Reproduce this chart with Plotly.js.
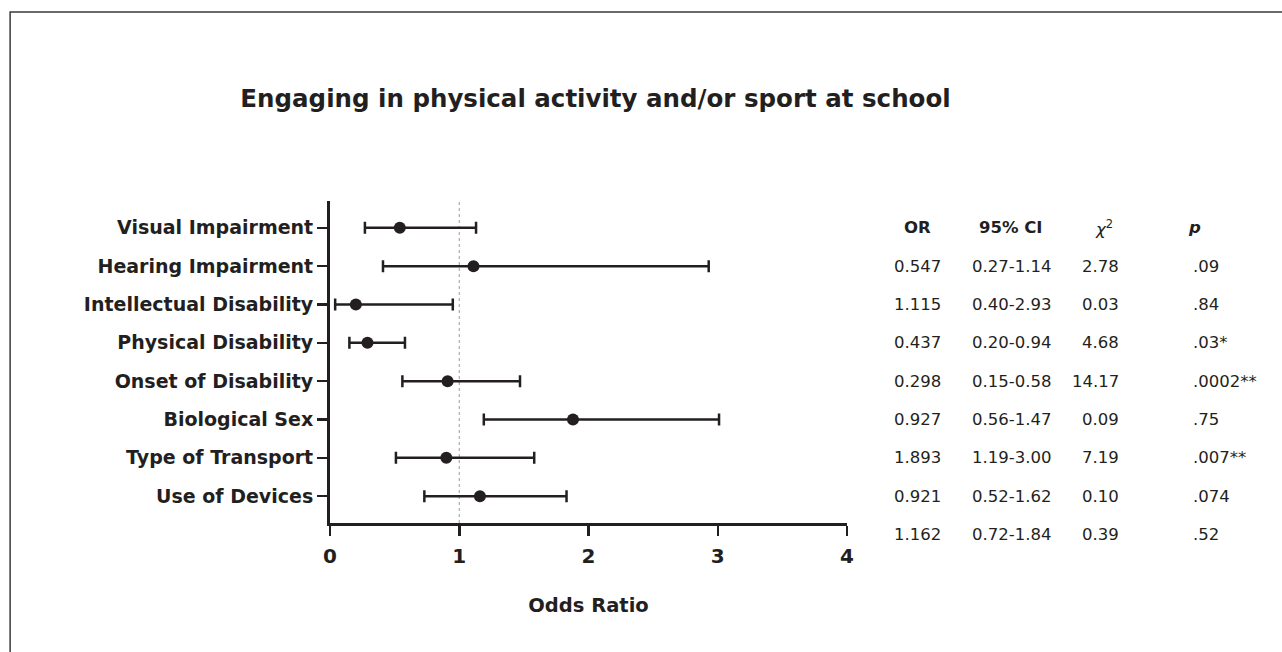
<!DOCTYPE html>
<html>
<head>
<meta charset="utf-8">
<script src="https://cdn.plot.ly/plotly-3.0.1.min.js"></script>
<style>
  html, body { margin: 0; padding: 0; background: #ffffff; }
  #chart { width: 1282px; height: 652px; }
</style>
</head>
<body>
<div id="chart"></div>
<script>
// ---- Data ----
const categories = [
  "Visual Impairment",
  "Hearing Impairment",
  "Intellectual Disability",
  "Physical Disability",
  "Onset of Disability",
  "Biological Sex",
  "Type of Transport",
  "Use of Devices"
];
// plotted odds ratios and CI bounds as drawn
const oddsRatio = [0.54, 1.11, 0.20, 0.29, 0.91, 1.88, 0.90, 1.16];
const ciLow     = [0.27, 0.41, 0.04, 0.15, 0.56, 1.19, 0.51, 0.73];
const ciHigh    = [1.13, 2.93, 0.95, 0.58, 1.47, 3.01, 1.58, 1.83];

// table text
const tableHeaders = ["<b>OR</b>", "<b>95% CI</b>", "<i>χ</i><sup>2</sup>", "<b><i>p</i></b>"];
const orText  = ["0.547", "1.115", "0.437", "0.298", "0.927", "1.893", "0.921", "1.162"];
const ciText  = ["0.27-1.14", "0.40-2.93", "0.20-0.94", "0.15-0.58", "0.56-1.47", "1.19-3.00", "0.52-1.62", "0.72-1.84"];
const chiText = ["2.78", "0.03", "4.68", "14.17", "0.09", "7.19", "0.10", "0.39"];
const pText   = [".09", ".84", ".03*", ".0002**", ".75", ".007**", ".074", ".52"];

const xTickVals = [0, 1, 2, 3, 4];

// ---- Layout geometry ----
const W = 1282, H = 652;
const plotL = 329.5, plotR = 847.5, plotT = 201, plotB = 523;
const ink = "#231f20";
const fontFam = "'DejaVu Sans', 'Liberation Sans', Arial, sans-serif";
const yRange = [7.7, -0.7];

function pxX(px) { return (px - plotL) / (plotR - plotL); }
function pxY(py) { return (plotB - py) / (plotB - plotT); }
// row index (same scale as the y axis) -> paper fraction
function rowToPaper(r) { return (yRange[0] - r) / (yRange[0] - yRange[1]); }

const rowIndex = categories.map((c, i) => i);

const trace = {
  type: "scatter",
  mode: "markers",
  x: oddsRatio,
  y: rowIndex,
  marker: { size: 12, color: ink },
  error_x: {
    type: "data",
    symmetric: false,
    array: oddsRatio.map((v, i) => ciHigh[i] - v),
    arrayminus: oddsRatio.map((v, i) => v - ciLow[i]),
    thickness: 2.5,
    width: 6,
    color: ink
  },
  cliponaxis: false,
  hoverinfo: "skip",
  showlegend: false
};

const annotations = [];
const cols = [
  { hx: 918,  ha: "center", vx: 918,  va: "center", vals: orText },
  { hx: 1012, ha: "center", vx: 1012, va: "center", vals: ciText },
  { hx: 1105, ha: "center", vx: 1122, va: "right",  vals: chiText },
  { hx: 1196, ha: "center", vx: 1192, va: "left",   vals: pText }
];
cols.forEach((c, ci) => {
  annotations.push({
    xref: "paper", yref: "paper",
    x: pxX(c.hx), y: rowToPaper(0),
    xanchor: c.ha, yanchor: "middle",
    text: tableHeaders[ci],
    showarrow: false,
    font: { family: fontFam, size: 16.5, color: ink }
  });
  c.vals.forEach((t, ri) => {
    annotations.push({
      xref: "paper", yref: "paper",
      x: pxX(c.vx), y: rowToPaper(ri + 1),
      xanchor: c.va, yanchor: "middle",
      text: t,
      showarrow: false,
      font: { family: fontFam, size: 16.5, color: ink }
    });
  });
});

const layout = {
  width: W,
  height: H,
  paper_bgcolor: "#ffffff",
  plot_bgcolor: "#ffffff",
  margin: { l: plotL, r: W - plotR, t: plotT, b: H - plotB, pad: 0 },
  title: {
    text: "Engaging in physical activity and/or sport at school",
    x: 595.5 / W, xref: "container", xanchor: "center",
    y: 1 - 98 / H, yref: "container", yanchor: "middle",
    font: { family: fontFam, size: 24.5, color: ink, weight: 700 }
  },
  xaxis: {
    range: [0, 4],
    tickvals: xTickVals,
    ticktext: xTickVals.map(String),
    showgrid: false,
    zeroline: false,
    showline: true,
    linecolor: ink,
    linewidth: 3,
    ticks: "outside",
    ticklen: 10,
    tickwidth: 2.5,
    tickcolor: ink,
    ticklabelstandoff: 3,
    tickfont: { family: fontFam, size: 20, color: ink, weight: 700 },
    title: {
      text: "Odds Ratio",
      standoff: 32,
      font: { family: fontFam, size: 19.5, color: ink, weight: 700 }
    },
    automargin: false,
    fixedrange: true
  },
  yaxis: {
    range: yRange,
    tickvals: rowIndex,
    ticktext: categories,
    showgrid: false,
    zeroline: false,
    showline: true,
    linecolor: ink,
    linewidth: 3,
    ticks: "outside",
    ticklen: 10,
    tickwidth: 2.5,
    tickcolor: ink,
    tickfont: { family: fontFam, size: 19, color: ink, weight: 700 },
    automargin: false,
    fixedrange: true
  },
  shapes: [
    {
      type: "line", xref: "x", yref: "paper",
      x0: 1, x1: 1, y0: 0, y1: 1,
      line: { color: "#9a9a9a", width: 1, dash: "dot" },
      layer: "below"
    },
    {
      type: "rect", xref: "paper", yref: "paper",
      x0: pxX(9), x1: pxX(1300), y0: pxY(670), y1: pxY(12),
      line: { color: "#3a3a3a", width: 1.5 },
      fillcolor: "rgba(0,0,0,0)",
      layer: "below"
    }
  ],
  annotations: annotations
};

Plotly.newPlot("chart", [trace], layout, { staticPlot: true, displayModeBar: false });
</script>
</body>
</html>
